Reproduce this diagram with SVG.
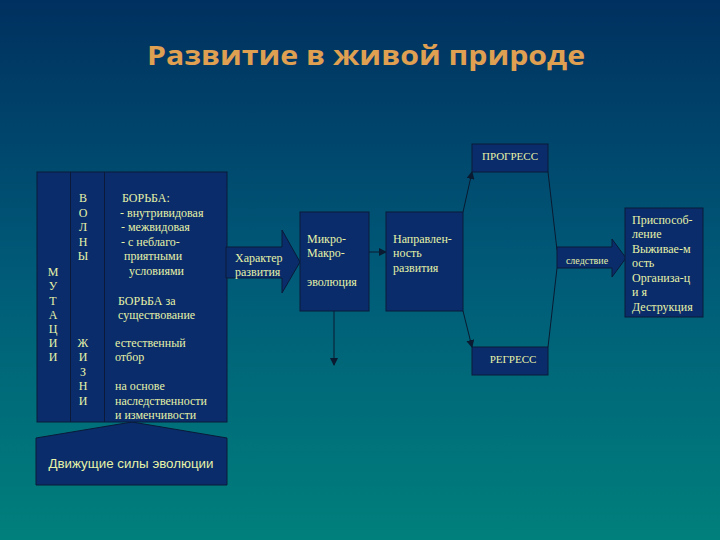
<svg xmlns="http://www.w3.org/2000/svg" width="720" height="540" viewBox="0 0 720 540">
<defs>
<linearGradient id="bg" x1="0" y1="0" x2="0" y2="1">
<stop offset="0" stop-color="#00305f"/>
<stop offset="0.5" stop-color="#005a78"/>
<stop offset="1" stop-color="#00807c"/>
</linearGradient>
<marker id="ah" markerWidth="8" markerHeight="8" refX="7" refY="4" orient="auto" markerUnits="userSpaceOnUse">
<path d="M0,0 L8,4 L0,8 Z" fill="#0a1a30"/>
</marker>
<style>
.box{fill:#0a2c6a;stroke:#0a1a38;stroke-width:1}
.t{font-family:"Liberation Serif","Times New Roman",serif;font-size:12px;fill:#e6f2a8}
.s{font-family:"Liberation Serif","Times New Roman",serif;font-size:11px;fill:#e6f2a8}
.ln{fill:none;stroke:#0a1a30;stroke-width:1}
</style>
</defs>
<rect width="720" height="540" fill="url(#bg)"/>
<text x="366" y="65" text-anchor="middle" font-family="'Open Sans','Liberation Sans',sans-serif" font-weight="bold" font-size="27" fill="#e0a052" textLength="438" lengthAdjust="spacingAndGlyphs">Развитие в живой природе</text>

<g id="connectors">
<line class="ln" x1="369" y1="252" x2="386" y2="252" marker-end="url(#ah)"/>
<line class="ln" x1="334" y1="311" x2="334" y2="365" marker-end="url(#ah)"/>
<line class="ln" x1="463" y1="212" x2="472" y2="172" marker-end="url(#ah)"/>
<line class="ln" x1="463" y1="311" x2="472" y2="347" marker-end="url(#ah)"/>
<polyline class="ln" points="548,172 557,250"/>
<polyline class="ln" points="557,268 548,347"/>
</g>

<g id="driving-forces">
<polygon class="box" points="36,438 132,422 227,438 227,485 36,485"/>
<text x="131" y="468" text-anchor="middle" font-family="'Liberation Sans',Arial,sans-serif" font-size="13" fill="#e6f2a8" textLength="165" lengthAdjust="spacingAndGlyphs">Движущие силы эволюции</text>
</g>

<g id="factors">
<rect class="box" x="37" y="172" width="190" height="250"/>
<line x1="70.5" y1="172" x2="70.5" y2="422" stroke="#0a1a38"/>
<line x1="104.5" y1="172" x2="104.5" y2="422" stroke="#0a1a38"/>
<g class="t" text-anchor="middle">
<text x="53" y="276">М</text>
<text x="53" y="290">У</text>
<text x="53" y="305">Т</text>
<text x="53" y="319">А</text>
<text x="53" y="333">Ц</text>
<text x="53" y="347">И</text>
<text x="53" y="361">И</text>
<text x="83" y="202">В</text>
<text x="83" y="217">О</text>
<text x="83" y="231">Л</text>
<text x="83" y="246">Н</text>
<text x="83" y="260">Ы</text>
<text x="83" y="347">Ж</text>
<text x="83" y="361">И</text>
<text x="83" y="376">З</text>
<text x="83" y="390">Н</text>
<text x="83" y="405">И</text>
</g>
<g class="t">
<text x="122" y="202">БОРЬБА:</text>
<text x="120" y="217">- внутривидовая</text>
<text x="121" y="231">- межвидовая</text>
<text x="121" y="246">- с неблаго-</text>
<text x="124" y="260">приятными</text>
<text x="129" y="275">условиями</text>
<text x="118" y="305">БОРЬБА за</text>
<text x="118" y="319">существование</text>
<text x="115" y="347">естественный</text>
<text x="115" y="361">отбор</text>
<text x="115" y="390">на основе</text>
<text x="115" y="405">наследственности</text>
<text x="115" y="419">и изменчивости</text>
</g>
</g>

<g id="character">
<polygon class="box" points="226,247 282,247 282,230 300,262 282,293 282,278 226,278"/>
<text class="t" x="235" y="262">Характер</text>
<text class="t" x="235" y="276">развития</text>
</g>

<g id="micro-macro">
<rect class="box" x="300" y="212" width="69" height="99"/>
<text class="t" x="307" y="243">Микро-</text>
<text class="t" x="307" y="257">Макро-</text>
<text class="t" x="307" y="286">эволюция</text>
</g>

<g id="direction">
<rect class="box" x="386" y="212" width="77" height="99"/>
<text class="t" x="393" y="243">Направлен-</text>
<text class="t" x="393" y="257">ность</text>
<text class="t" x="393" y="272">развития</text>
</g>

<g id="progress">
<rect class="box" x="472" y="144" width="76" height="28"/>
<text class="s" x="510" y="160" text-anchor="middle">ПРОГРЕСС</text>
</g>

<g id="regress">
<rect class="box" x="472" y="347" width="76" height="28"/>
<text class="s" x="513" y="363" text-anchor="middle">РЕГРЕСС</text>
</g>

<g id="consequence">
<polygon class="box" points="557,247 612,247 612,239 626,258 612,277 612,268 557,268"/>
<text x="587" y="264" text-anchor="middle" font-family="'Liberation Serif','Times New Roman',serif" font-size="10" fill="#e6f2a8">следствие</text>
</g>

<g id="results">
<rect class="box" x="625" y="208" width="78" height="109"/>
<g class="t">
<text x="632" y="224">Приспособ-</text>
<text x="632" y="238">ление</text>
<text x="632" y="253">Выживае-м</text>
<text x="632" y="267">ость</text>
<text x="632" y="282">Организа-ц</text>
<text x="632" y="296" letter-spacing="3">ия</text>
<text x="632" y="311">Деструкция</text>
</g>
</g>
</svg>
